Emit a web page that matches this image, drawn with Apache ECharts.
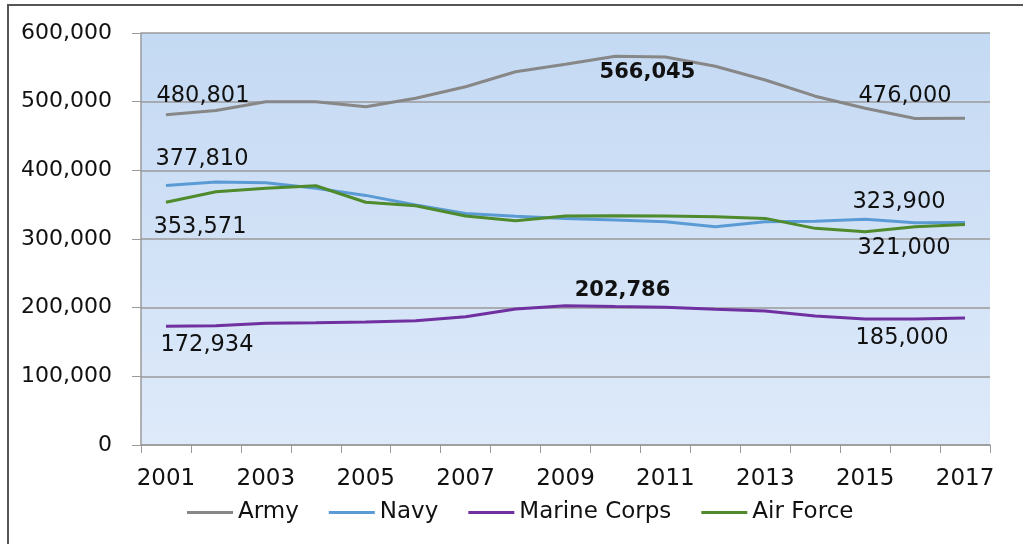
<!DOCTYPE html>
<html><head><meta charset="utf-8">
<script src="https://cdn.jsdelivr.net/npm/echarts@6/dist/echarts.min.js"></script>
<style>html,body{margin:0;padding:0;background:#fff}#c{width:1023px;height:544px}</style>
</head><body><div id="c"></div>
<script>
const years = ['2001','2002','2003','2004','2005','2006','2007','2008','2009','2010','2011','2012','2013','2014','2015','2016','2017'];
const army   = [480801,487000,500000,500000,492600,505000,521700,543500,554500,566045,565000,551500,531500,508000,490500,475600,476000];
const navy   = [377810,383000,382000,374000,363500,349500,337000,333000,330000,327800,325000,318000,325000,326000,328600,323700,323900];
const marine = [172934,173500,177200,178000,179000,181000,186900,198000,202786,201600,200500,197600,195000,187800,183600,183600,185000];
const airForce = [353571,368800,373800,377500,353500,348500,333500,326500,333500,333800,333500,332500,330000,315500,310700,318000,321000];
const yTicks = [0,100000,200000,300000,400000,500000,600000];

const fmt = v => v.toLocaleString('en-US');
const FONT = 'DejaVu Sans';

// labels: series -> {index: [dx, dy, bold]}
const labelSpec = {
  Army: {0:[37,-19,false], 9:[32,16,true], 16:[-60,-22,false]},
  Navy: {0:[36,-26,false], 16:[-66,-20,false]},
  'Marine Corps': {0:[41,19,false], 8:[57,-15,true], 16:[-63,20,false]},
  'Air Force': {0:[34,25,false], 16:[-61,24,false]}
};

function mkSeries(name, data, color){
  const spec = labelSpec[name];
  return {
    name, type:'line', data: data.map((v,i)=>{
      const s = spec[i];
      if(!s) return v;
      return {value:v, label:{show:true, position:'inside', offset:[s[0],s[1]], formatter:fmt(v),
        fontFamily:FONT, fontSize: s[2]?21:22.5, color:'#111', fontWeight: s[2]?'bold':'normal'}};
    }),
    symbol:'circle', symbolSize:0, showSymbol:true, smooth:false,
    lineStyle:{color, width:3}, itemStyle:{color},
    label:{show:false}, emphasis:{disabled:true}, animation:false
  };
}

const chart = echarts.init(document.getElementById('c'), null, {renderer:'canvas'});
chart.setOption({
  animation:false,
  backgroundColor:'#fff',
  grid:{left:141, right:33, top:33, bottom:99, show:true, borderWidth:0,
    backgroundColor:{type:'linear',x:0,y:0,x2:0,y2:1,colorStops:[{offset:0,color:'#c4d9f3'},{offset:1,color:'#deeafa'}]}},
  legend:{left:187, top:501, padding:0, icon:'rect', itemWidth:46, itemHeight:3, itemGap:30,
    textStyle:{fontFamily:FONT, fontSize:23, color:'#111', padding:[0,0,0,0]},
    data:['Army','Navy','Marine Corps','Air Force']},
  xAxis:{type:'category', data:years, boundaryGap:true,
    axisLine:{lineStyle:{color:'#9a9a9a', width:1.5}},
    axisTick:{show:true, interval:0, length:8, lineStyle:{color:'#9a9a9a'}},
    axisLabel:{interval:1, margin:23, fontFamily:FONT, fontSize:23, color:'#111'},
    splitLine:{show:false}},
  yAxis:{type:'value', min:0, max:600000, interval:100000,
    axisLine:{show:true, lineStyle:{color:'#9a9a9a', width:1.5}},
    axisTick:{show:true, length:9, lineStyle:{color:'#9a9a9a'}},
    axisLabel:{margin:29, fontFamily:FONT, fontSize:22, color:'#111', formatter:v=>fmt(v)},
    splitLine:{show:true, lineStyle:{color:'#9a9a9a', width:1.5}}},
  graphic:[{type:'polyline', shape:{points:[[8,544],[8,5],[1023,5]]}, style:{stroke:'#555', lineWidth:2, fill:null}, silent:true}],
  series:[
    mkSeries('Army', army, '#878787'),
    mkSeries('Navy', navy, '#5b9bd5'),
    mkSeries('Marine Corps', marine, '#7030a0'),
    mkSeries('Air Force', airForce, '#4f8a2c')
  ]
});
</script></body></html>
